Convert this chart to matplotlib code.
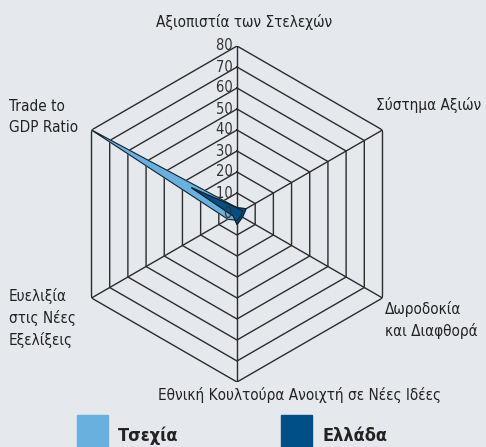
import numpy as np
import matplotlib
matplotlib.use('Agg')
import matplotlib.pyplot as plt
from matplotlib.patches import Rectangle

# Κατηγορίες (δεξιόστροφα από πάνω)
categories = ['Αξιοπιστία των Στελεχών', 'Σύστημα Αξιών', 'Δωροδοκία\nκαι Διαφθορά',
              'Εθνική Κουλτούρα Ανοιχτή σε Νέες Ιδέες', 'Ευελιξία\nστις Νέες\nΕξελίξεις',
              'Trade to\nGDP Ratio']
czech = [3, 3, 2, 3, 5, 80]
greece = [3, 5, 3, 5, 2, 25]
rings = [10, 20, 30, 40, 50, 60, 70, 80]
series_names = ['Τσεχία', 'Ελλάδα']

bg = '#e5e8ed'
c_light = '#6ab0de'
c_dark = '#004f86'
W, H = 486, 447

fig = plt.figure(figsize=(W/100, H/100), dpi=100, facecolor=bg)
cx, cy, R = 237, 214, 168
ax = fig.add_axes([(cx-R)/W, 1-(cy+R)/H, 2*R/W, 2*R/H], projection='polar')
ax.set_facecolor('none')
ax.set_theta_zero_location('N')
ax.set_theta_direction(-1)
ax.set_ylim(0, 80)
ax.grid(False)
ax.spines['polar'].set_visible(False)
ax.set_xticks([])
ax.set_yticks([])

ang = np.deg2rad(np.arange(0, 360, 60))
ang_c = np.append(ang, ang[0])

# εξαγωνικό πλέγμα
for r in rings:
    ax.plot(ang_c, [r]*7, color='#2b2b2b', lw=1.0, zorder=1)
for a in ang:
    ax.plot([a, a], [0, 80], color='#2b2b2b', lw=1.0, zorder=1)

for vals, col in [(czech, c_light), (greece, c_dark)]:
    v = np.append(vals, vals[0])
    ax.fill(ang_c, v, color=col, zorder=2)
    ax.plot(ang_c, v, color='#1a1a1a', lw=0.7, zorder=3)

for r in [0] + rings:
    ax.text(0, r, str(r) + ' ', ha='right', va='center', fontsize=10.5,
            fontstretch='condensed', color='#333333', zorder=4)

# ετικέτες αξόνων
tk = dict(fontsize=11, color='#222222', fontstretch='condensed', linespacing=1.45)
fig.text(244/W, 1-22/H, categories[0], ha='center', va='center', **tk)
fig.text(376/W, 1-105/H, categories[1], ha='left', va='center', **tk)
fig.text(385/W, 1-320/H, categories[2], ha='left', va='center', **tk)
fig.text(300/W, 1-395/H, categories[3], ha='center', va='center', **tk)
fig.text(9/W, 1-318/H, categories[4], ha='left', va='center', **tk)
fig.text(9/W, 1-117/H, categories[5], ha='left', va='center', **tk)

# υπόμνημα
for x0, col, name in [(77, c_light, series_names[0]), (281, c_dark, series_names[1])]:
    fig.add_artist(Rectangle((x0/W, 1-447/H), 31/W, 32/H, transform=fig.transFigure,
                             color=col))
    fig.text((x0+41)/W, 1-441/H, name, ha='left', va='baseline', fontsize=13,
             fontweight='bold', fontstretch='condensed', color='#222222')

fig.savefig('out.png', dpi=100, facecolor=bg)
